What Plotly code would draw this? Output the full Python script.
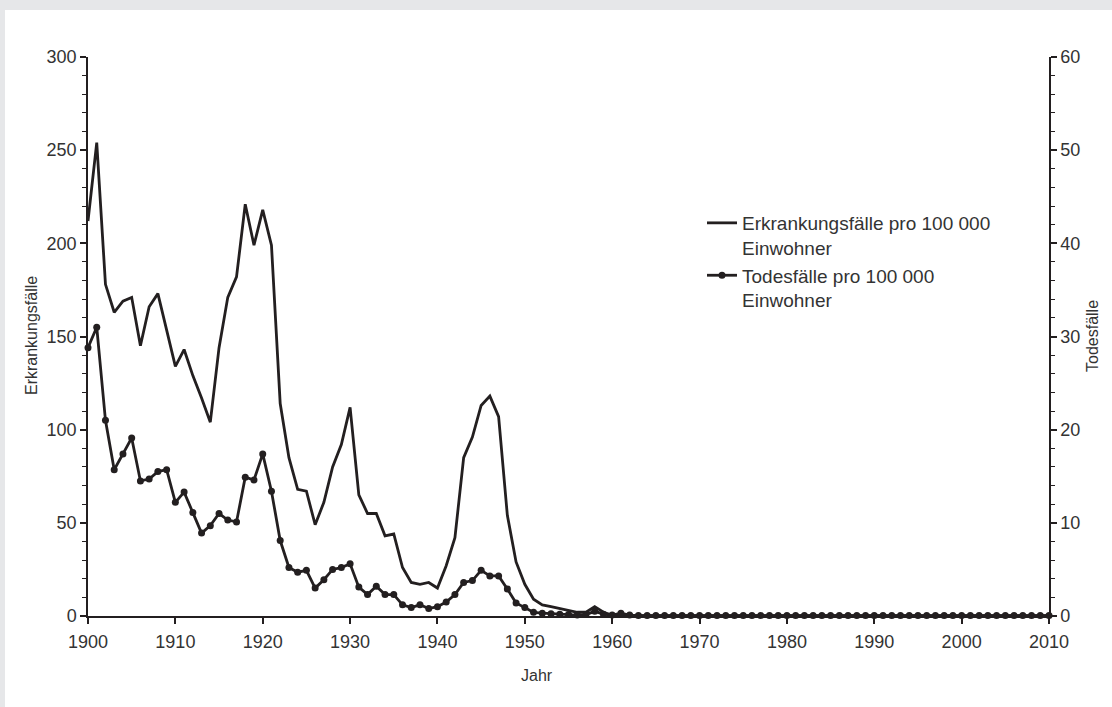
import plotly.graph_objects as go

years = list(range(1900, 2011))

erkrankung_1900_1960 = [
    212, 254, 178, 163, 169, 171, 145, 166, 173, 153,
    134, 143, 129, 117, 104, 144, 171, 182, 221, 199,
    218, 199, 114, 85, 68, 67, 49, 61, 80, 92,
    112, 65, 55, 55, 43, 44, 26, 18, 17, 18,
    15, 27, 42, 85, 96, 113, 118, 107, 54, 29,
    17, 9, 6, 5, 4, 3, 2, 2, 5, 2,
    0.5,
]
erkrankung = erkrankung_1900_1960 + [0.2] * (len(years) - len(erkrankung_1900_1960))

todesfaelle_1900_1962 = [
    28.8, 31.0, 21.0, 15.7, 17.4, 19.1, 14.5, 14.7, 15.5, 15.7,
    12.2, 13.3, 11.1, 8.9, 9.7, 11.0, 10.3, 10.1, 14.9, 14.6,
    17.4, 13.4, 8.1, 5.2, 4.7, 4.9, 3.0, 3.9, 5.0, 5.2,
    5.6, 3.1, 2.3, 3.2, 2.3, 2.3, 1.2, 0.9, 1.2, 0.8,
    1.0, 1.5, 2.3, 3.6, 3.8, 4.9, 4.3, 4.3, 2.9, 1.4,
    0.9, 0.4, 0.3, 0.25, 0.2, 0.15, 0.1, 0.15, 0.5, 0.2,
    0.1, 0.3, 0.1,
]
todesfaelle = todesfaelle_1900_1962 + [0.05] * (len(years) - len(todesfaelle_1900_1962))

x_ticks = list(range(1900, 2011, 10))
left_ticks = [0, 50, 100, 150, 200, 250, 300]
right_ticks = [0, 10, 20, 30, 40, 50, 60]

name_erk = "Erkrankungsfälle pro 100 000<br>Einwohner"
name_tod = "Todesfälle pro 100 000<br>Einwohner"

INK = "#231f20"
TXT = "#333333"
FONT = "Liberation Sans, Arial, sans-serif"

fig = go.Figure()
fig.add_trace(go.Scatter(
    x=years, y=erkrankung, name=name_erk, mode="lines",
    line=dict(color=INK, width=2.8), yaxis="y", cliponaxis=False,
))
fig.add_trace(go.Scatter(
    x=years, y=todesfaelle, name=name_tod, mode="lines+markers",
    line=dict(color=INK, width=2.8), marker=dict(color=INK, size=7),
    yaxis="y2", cliponaxis=False,
))

W, H = 1112, 707
L, R, T, B = 88, 63, 57, 91
pw, ph = W - L - R, H - T - B

def px_to_paper_x(px):
    return (px - L) / pw

def px_to_paper_y(py):
    return (H - B - py) / ph

fig.add_shape(type="rect", xref="paper", yref="paper",
              x0=px_to_paper_x(5), x1=px_to_paper_x(W + 5),
              y0=px_to_paper_y(H + 5), y1=px_to_paper_y(10),
              fillcolor="white", line=dict(width=0), layer="below")

# axis titles as annotations placed by pixel position
fig.add_annotation(text="Erkrankungsfälle", xref="paper", yref="paper",
                   x=px_to_paper_x(31), y=px_to_paper_y(336), textangle=-90,
                   showarrow=False, font=dict(size=16, color=TXT, family=FONT),
                   xanchor="center", yanchor="middle")
fig.add_annotation(text="Todesfälle", xref="paper", yref="paper",
                   x=px_to_paper_x(1092), y=px_to_paper_y(336), textangle=-90,
                   showarrow=False, font=dict(size=16, color=TXT, family=FONT),
                   xanchor="center", yanchor="middle")
fig.add_annotation(text="Jahr", xref="paper", yref="paper",
                   x=px_to_paper_x(537), y=px_to_paper_y(675),
                   showarrow=False, font=dict(size=16, color=TXT, family=FONT),
                   xanchor="center", yanchor="middle")

axis_common = dict(
    showgrid=False, zeroline=False, showline=True, linecolor=INK, linewidth=1.5,
    ticks="outside", tickcolor=INK, tickwidth=1.5, ticklen=6, automargin=False,
    tickfont=dict(size=18, color=TXT, family=FONT),
)

fig.update_layout(
    width=W, height=H,
    margin=dict(l=L, r=R, t=T, b=B),
    paper_bgcolor="#e6e7e9", plot_bgcolor="white",
    font=dict(family=FONT, color=TXT),
    showlegend=True,
    legend=dict(x=px_to_paper_x(702), y=px_to_paper_y(204), xanchor="left", yanchor="top",
                bgcolor="rgba(0,0,0,0)", valign="top",
                font=dict(size=19, color=TXT, family=FONT),
                tracegroupgap=2, itemwidth=30),
    xaxis=dict(range=[1900, 2010], tickvals=x_ticks, ticktext=[str(v) for v in x_ticks],
               ticklabelstandoff=3, **axis_common),
    yaxis=dict(range=[0, 300], tickvals=left_ticks,
               minor=dict(dtick=10, ticks="outside", ticklen=4, tickcolor=INK, tickwidth=1.2),
               **axis_common),
    yaxis2=dict(range=[0, 60], tickvals=right_ticks, overlaying="y", side="right",
                minor=dict(dtick=2, ticks="outside", ticklen=4, tickcolor=INK, tickwidth=1.2),
                **axis_common),
)

fig.write_html("out.html", config={"displayModeBar": False},
               post_script="document.body.style.margin='0';document.body.style.overflow='hidden';")
